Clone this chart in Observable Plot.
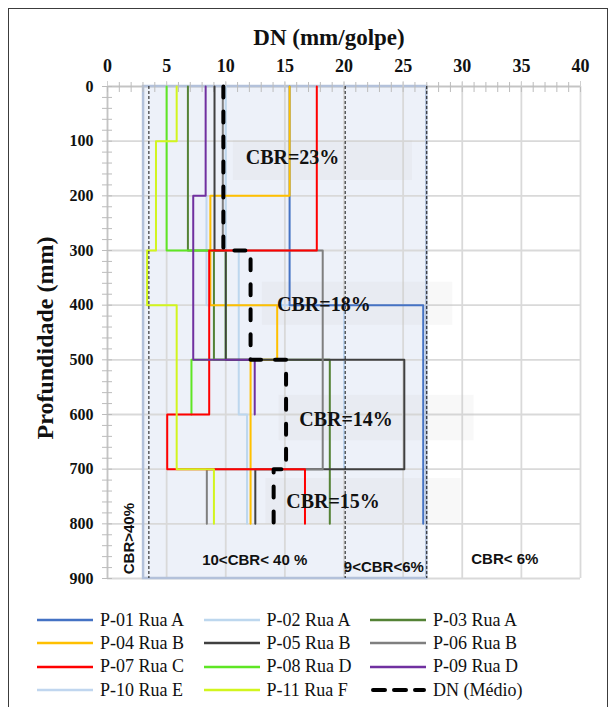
<!DOCTYPE html>
<html><head><meta charset="utf-8">
<script src="https://cdn.jsdelivr.net/npm/d3@7"></script>
<script src="https://cdn.jsdelivr.net/npm/@observablehq/plot@0.6"></script>
<style>
body{margin:0;background:#fff;}
#wrap{position:relative;width:610px;height:707px;overflow:hidden;font-family:"Liberation Serif","Times New Roman",serif;color:#111;}
#frame{position:absolute;left:8px;top:8px;width:600px;height:720px;border:1.5px solid #3c3c3c;box-sizing:border-box;pointer-events:none;}
#chart{position:absolute;left:0;top:0;}
#title{position:absolute;left:179px;width:300px;text-align:center;top:25px;line-height:26px;font-weight:bold;font-size:23px;}
#ylab{position:absolute;left:-105px;width:300px;top:325px;height:26px;line-height:26px;text-align:center;font-weight:bold;font-size:24px;transform:rotate(-90deg);}
.leg{position:absolute;height:22px;display:flex;align-items:center;font-size:18px;white-space:nowrap;}
.leg svg{margin-right:7px;}
</style></head>
<body><div id="wrap"><div id="chart"></div><div id="frame"></div>
<div id="title">DN (mm/golpe)</div><div id="ylab">Profundidade (mm)</div><div id="legend"></div></div>
<script>
// ---- data ----
const layerTops = [0, 100, 200, 300, 400, 500, 600, 700];
const layerThickness = 100;
const seriesNames = ["P-01 Rua A","P-02 Rua A","P-03 Rua A","P-04 Rua B","P-05 Rua B","P-06 Rua B","P-07 Rua C","P-08 Rua D","P-09 Rua D","P-10 Rua E","P-11 Rua F"];
const seriesColors = ["#4472c4","#bdd7ee","#548235","#ffc000","#404040","#7f7f7f","#ff0000","#5ee624","#7030a0","#c0d6ef","#d2f51e"];
const p01 = [15.4, 15.4, 15.4, 15.4, 26.7, 26.7, 26.7, 26.7];
const p02 = [10.0, 10.0, 10.0, 11.1, 11.1, 11.1, 11.8, 11.8];
const p03 = [6.8, 6.8, 6.8, 9.0, 9.0, 18.8, 18.8, 18.8];
const p04 = [15.4, 15.4, 8.7, 8.7, 14.35, 12.1, 12.1, 12.1];
const p05 = [9.05, 9.05, 9.05, 10.0, 10.0, 25.1, 25.1, 12.5];
const p06 = [9.75, 9.75, 9.75, 18.2, 18.2, 18.2, 18.2, 8.4];
const p07 = [17.7, 17.7, 17.7, 8.6, 8.6, 8.6, 5.05, 16.7];
const p08 = [5.0, 5.0, 5.0, 10.0, 10.0, 7.1, null, null];
const p09 = [8.3, 8.3, 7.25, 7.25, 7.25, 12.45, null, null];
const p10 = [null, null, 8.37, 8.37, 20.0, 20.0, 20.0, null];
const p11 = [5.85, 4.1, 4.1, 3.35, 5.85, 5.85, 5.85, 9.0];
const dnMedio = [9.8, 9.8, 9.8, 12.1, 12.1, 15.1, 15.1, 14.05];
const seriesValues = [p01,p02,p03,p04,p05,p06,p07,p08,p09,p10,p11];
const drawOrder = [9,0,1,2,3,7,4,5,6,8,10];

const xTicks = d3.range(0, 41, 5);
const xMinor = d3.range(0, 41, 1);
const yTicks = d3.range(0, 901, 100);
const yMinor = d3.range(0, 901, 20);
const refLinesX = [3.5, 20.1, 27];
const zone = {x1: 3.05, x2: 27};

const cbrLabels = ["CBR=23%","CBR=18%","CBR=14%","CBR=15%"];
const cbrLabelX = [15.65, 18.3, 20.17, 19.07];
const cbrLabelDepth = [130, 399, 609, 760];
const cbrBoxX1 = [10.65, 13.1, 14.5, 13.4];
const cbrBoxX2 = [25.8, 29.2, 31.0, 29.9];
const cbrBoxD1 = [99, 358, 565, 717];
const cbrBoxD2 = [172, 437, 648, 800];
const zoneLabels = ["10<CBR< 40 %","9<CBR<6%","CBR< 6%"];
const zoneLabelX = [12.45, 23.37, 33.6];
const zoneLabelDepth = [867, 879, 865];
const sideLabel = "CBR>40%";
const sideLabelX = 1.8, sideLabelDepth = 827;

// ---- build ----
function steps(name, vals){
  const pts = [];
  vals.forEach((v,i)=>{ if(v==null) return;
    pts.push({name, dn:v, depth:layerTops[i]}, {name, dn:v, depth:layerTops[i]+layerThickness}); });
  return pts;
}
const cbrTable = cbrLabels.map((t,i)=>({t, x:cbrLabelX[i], y:cbrLabelDepth[i], x1:cbrBoxX1[i], x2:cbrBoxX2[i], y1:cbrBoxD1[i], y2:cbrBoxD2[i]}));
const zoneTable = zoneLabels.map((t,i)=>({t, x:zoneLabelX[i], y:zoneLabelDepth[i]}));

const gridStyle = {stroke:"#d9d9d9", strokeOpacity:1, strokeWidth:1.8};
const seriesMarks = drawOrder.map(i => Plot.line(steps(seriesNames[i], seriesValues[i]), {x:"dn", y:"depth", stroke:seriesColors[i], strokeWidth:2}));

const chart = Plot.plot({
  width: 610, height: 600,
  marginTop: 86, marginLeft: 107, marginRight: 30, marginBottom: 22,
  x: {domain:[0,40]},
  y: {domain:[0,900], reverse:true},
  style: {fontFamily:"Liberation Serif, serif", background:"transparent", overflow:"visible"},
  marks: [
    Plot.rect([zone], {x1:"x1", x2:"x2", fill:"#edf1f9"}),
    Plot.gridX(xTicks, gridStyle),
    Plot.gridY(yTicks, gridStyle),
    Plot.rect(cbrTable, {x1:"x1", x2:"x2", y1:"y1", y2:"y2", fill:"#c8c8c8", fillOpacity:0.12}),
    Plot.ruleY([0], {stroke:"#c4c4c4", strokeWidth:1.5}),
    Plot.ruleX([0], {stroke:"#c4c4c4", strokeWidth:1.5}),
    Plot.rect([zone], {x1:"x1", x2:"x2", fill:"none", stroke:"#b3c1da", strokeWidth:2.5}),
    Plot.axisX(xMinor, {anchor:"top", tickSize:10, dy:5, fill:"none", stroke:"#bcbcbc", label:null}),
    Plot.axisX(xTicks, {anchor:"top", tickSize:6, stroke:"#d0d0d0", fill:"none", label:null}),
    Plot.axisX(xTicks, {anchor:"top", tickSize:0, tickPadding:15, fontSize:18, fontWeight:"bold", fill:"#111", label:null}),
    Plot.axisY(yMinor, {anchor:"left", tickSize:10, dx:5, fill:"none", stroke:"#bcbcbc", label:null}),
    Plot.axisY(yTicks, {anchor:"left", tickSize:0, tickPadding:14, fontSize:16, fontWeight:"bold", fill:"#111", label:null}),
    ...seriesMarks,
    Plot.line(steps("DN (Médio)", dnMedio), {x:"dn", y:"depth", stroke:"#000", strokeWidth:4, strokeDasharray:"11,14", strokeLinecap:"round"}),
    Plot.ruleX(refLinesX, {stroke:"#111", strokeWidth:1, strokeDasharray:"3,2"}),
    Plot.text(cbrTable, {x:"x", y:"y", text:"t", fontSize:20, fontWeight:"bold", fontFamily:"Liberation Serif, serif", fill:"#111"}),
    Plot.text(zoneTable, {x:"x", y:"y", text:"t", fontSize:15, fontWeight:"bold", fontFamily:"Liberation Sans, Arial, sans-serif", fill:"#111"}),
    Plot.text([sideLabel], {x:()=>sideLabelX, y:()=>sideLabelDepth, text:d=>d, rotate:-90, fontSize:15, fontWeight:"bold", fontFamily:"Liberation Sans, Arial, sans-serif", fill:"#111"})
  ]
});
document.getElementById("chart").appendChild(chart);

// legend
const legend = document.getElementById("legend");
const legItems = seriesNames.map((n,i)=>({name:n, color:seriesColors[i], dash:false})).concat([{name:"DN (Médio)", color:"#000", dash:true}]);
legItems.forEach((it,i)=>{
  const col = i % 3, row = Math.floor(i/3);
  const d = document.createElement("div");
  d.className = "leg";
  d.style.left = (37 + col*166.5) + "px";
  d.style.top = (609 + row*23.4) + "px";
  const line = it.dash
    ? `<line x1="3" y1="11" x2="54" y2="11" stroke="#000" stroke-width="4" stroke-dasharray="12,9" stroke-linecap="round"/>`
    : `<line x1="0" y1="11" x2="56" y2="11" stroke="${it.color}" stroke-width="2.5"/>`;
  d.innerHTML = `<svg width="56" height="22">${line}</svg><span>${it.name}</span>`;
  legend.appendChild(d);
});
</script></body></html>
